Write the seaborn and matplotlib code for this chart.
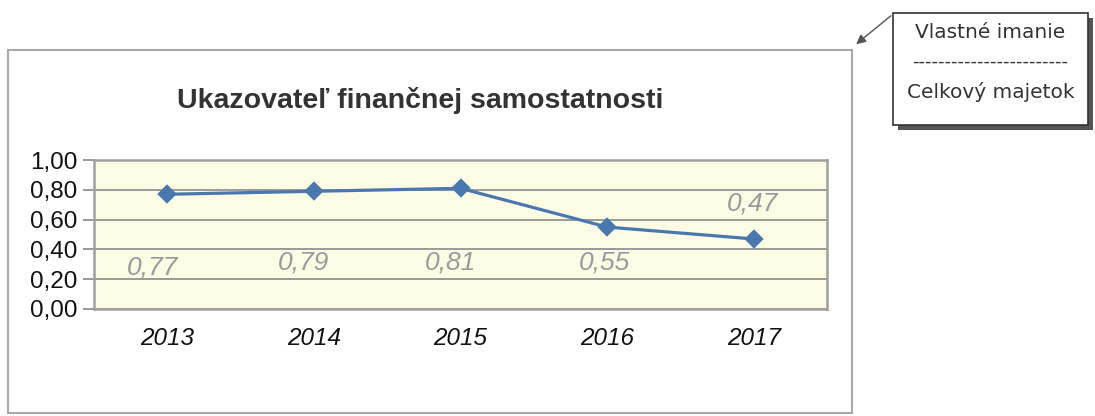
import matplotlib
matplotlib.use("Agg")
import matplotlib.pyplot as plt
import seaborn as sns
from matplotlib.patches import Rectangle, FancyArrowPatch
import numpy as np

# ---- data ----
years = ["2013", "2014", "2015", "2016", "2017"]
values = [0.77, 0.79, 0.81, 0.55, 0.47]
value_labels = ["0,77", "0,79", "0,81", "0,55", "0,47"]
yticks = [0.0, 0.2, 0.4, 0.6, 0.8, 1.0]
ytick_labels = ["0,00", "0,20", "0,40", "0,60", "0,80", "1,00"]
title = "Ukazovateľ finančnej samostatnosti"
callout_top = "Vlastné imanie"
callout_bottom = "Celkový majetok"

# ---- layout (label placement, not data) ----
label_dx = [-0.10, -0.07, -0.07, -0.02, -0.01]
label_y = [0.28, 0.31, 0.31, 0.31, 0.71]

sns.set_theme(style="white")
plt.rcParams["font.family"] = ["Liberation Sans", "DejaVu Sans"]

W, H = 1095, 416
fig = plt.figure(figsize=(W / 100, H / 100), dpi=100)
fig.patch.set_facecolor("white")

def fx(x):
    return x / W

def fy(y):
    return 1 - y / H

# outer chart frame
fig.add_artist(Rectangle((fx(8), fy(413)), fx(852) - fx(8), fy(50) - fy(413),
                         transform=fig.transFigure, fill=False,
                         edgecolor="#a8a8a8", linewidth=1.5))

ax = fig.add_axes([fx(94), fy(309), fx(827) - fx(94), fy(160) - fy(309)])
ax.set_facecolor("#fcfce4")

sns.pointplot(x=years, y=values, ax=ax, color="#4a78ae", markers="D",
              markersize=8, linewidth=2.3, errorbar=None)

ax.set_xlim(-0.5, 4.5)
ax.set_ylim(0, 1.0)
ax.set_yticks(yticks)
ax.set_yticklabels(ytick_labels, fontsize=17.5, color="#111111")
ax.yaxis.grid(True, color="#9a9a9a", linewidth=1.4)
ax.set_axisbelow(True)

ax.set_xticks(range(len(years)))
ax.set_xticklabels(years, fontsize=17.5, style="italic", color="#111111")
ax.set_xticks(np.arange(-0.5, len(years), 1.0), minor=True)
ax.tick_params(axis="x", which="major", length=0, pad=13)
ax.tick_params(axis="x", which="minor", length=7, width=1.2, color="#888888", direction="out")
ax.tick_params(axis="y", which="major", length=8, width=1.2, color="#888888", direction="out", pad=4, left=True)
ax.set_xlabel("")
ax.set_ylabel("")

for s in ax.spines.values():
    s.set_color("#a0a0a0")
    s.set_linewidth(1.8)

for i, lab in enumerate(value_labels):
    ax.text(i + label_dx[i], label_y[i], lab, ha="center", va="center",
            fontsize=19, style="italic", color="#9a9a9a")

fig.text(fx(420), fy(101), title, ha="center", va="center",
         fontsize=20.5, fontweight="bold", color="#333333")

# callout box with shadow
bx0, by0, bx1, by1 = 893, 13, 1088, 125
fig.add_artist(Rectangle((fx(bx0 + 5), fy(by1 + 5)), fx(bx1) - fx(bx0), fy(by0) - fy(by1),
                         transform=fig.transFigure, facecolor="#555555",
                         edgecolor="none"))
fig.add_artist(Rectangle((fx(bx0), fy(by1)), fx(bx1) - fx(bx0), fy(by0) - fy(by1),
                         transform=fig.transFigure, facecolor="white",
                         edgecolor="#333333", linewidth=1.2))
cx = (bx0 + bx1) / 2
fig.text(fx(cx), fy(32), callout_top, ha="center", va="center",
         fontsize=14.5, color="#333333", family="DejaVu Sans")
fig.text(fx(cx), fy(62), "-" * 24, ha="center", va="center",
         fontsize=13, color="#333333", family="DejaVu Sans")
fig.text(fx(cx), fy(92), callout_bottom, ha="center", va="center",
         fontsize=14.5, color="#333333", family="DejaVu Sans")

fig.add_artist(FancyArrowPatch(
    (fx(893), fy(14)), (fx(854), fy(46)), transform=fig.transFigure,
    arrowstyle="-|>", mutation_scale=14, color="#555555", linewidth=1.0))

fig.savefig("out.png", dpi=100, facecolor="white")
